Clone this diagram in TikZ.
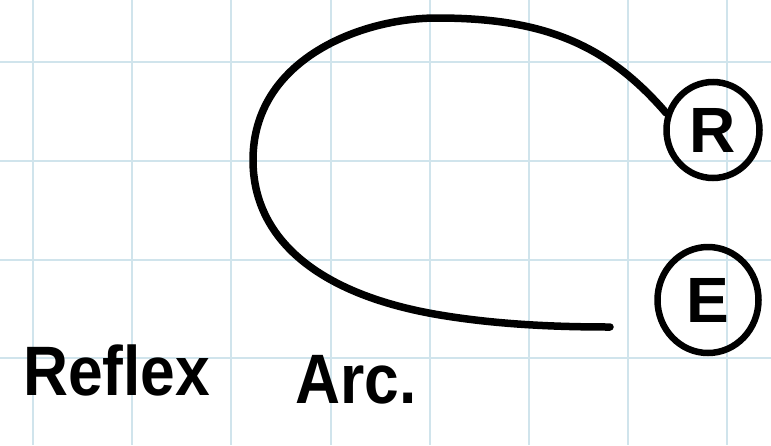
\documentclass[tikz,border=0pt]{standalone}
\usepackage{fontspec}
\setmainfont{Liberation Sans}
\usetikzlibrary{shapes.geometric}
\definecolor{gridblue}{RGB}{208,228,236}
\begin{document}
\begin{tikzpicture}[x=1pt,y=-1pt,
  gridline/.style={draw=gridblue, line width=2pt},
  ring/.style={draw=black, ellipse, line width=6.5pt, inner sep=0pt,
    font=\fontsize{64}{64}\selectfont\bfseries},
  arcline/.style={draw=black, line width=7.5pt, line cap=round},
  hand/.style={font=\fontsize{70}{70}\selectfont\bfseries, inner sep=0pt,
    anchor=base west, xscale=0.89}]
\useasboundingbox (0,0) rectangle (771,445);
\fill[white] (0,0) rectangle (771,445);
% grid
\foreach \gx in {33,132.2,231.4,330.6,429.8,529,628.2,727.4}
  \draw[gridline] (\gx,0) -- (\gx,445);
\foreach \gy in {62,161,260,358}
  \draw[gridline] (0,\gy) -- (771,\gy);
% receptor and effector
\node[ring, minimum width=93pt, minimum height=96pt] (R) at (713,130) {R};
\node[ring, minimum width=101pt, minimum height=106pt] (E) at (708,300) {E};
\coordinate (eend) at (610,327);
% reflex arc
\draw[arcline] (R.160) .. controls (605,42) and (540,18) .. (437,18)
  .. controls (360,18) and (253,60) .. (253,160)
  .. controls (253,240) and (320,295) .. (440,315)
  .. controls (500,325) and (560,327) .. (eend);
% caption
\node[hand] (t1) at (23,395) {Reflex};
\node[hand] (t2) at (295,403) {Arc.};
\end{tikzpicture}
\end{document}
